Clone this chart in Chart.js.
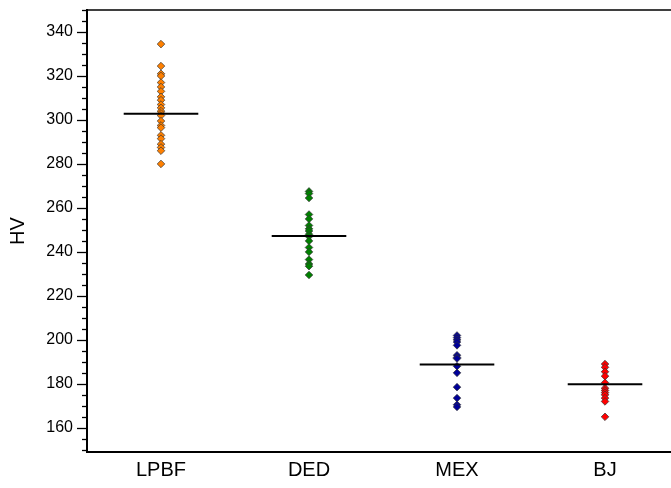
<!DOCTYPE html>
<html><head><meta charset="utf-8">
<script src="https://cdn.jsdelivr.net/npm/chart.js@4"></script>
<style>
html,body{margin:0;padding:0;overflow:hidden;background:#fff;width:671px;height:488px}
#wrap{position:absolute;left:0;top:0;width:700px;height:488px}
</style>
</head><body><div id="wrap"><canvas id="c" width="700" height="488"></canvas></div>
<script>
const categories = ['LPBF', 'DED', 'MEX', 'BJ'];
const lpbf = [334.5, 324.5, 321, 320, 317, 315, 313, 310.5, 309, 307, 305.5, 304, 303, 302, 299.5, 297.5, 296.5, 293, 291.5, 289, 287.5, 286, 280];
const ded = [267.5, 266.5, 264.5, 257, 255, 252, 250.5, 249.5, 248, 247, 245, 242, 240, 236.5, 234.5, 233.5, 229.5];
const mex = [202, 201, 200, 199, 197.5, 193, 192, 191.5, 188, 185, 178.5, 173.5, 170.5, 169.5];
const bj = [189, 187.5, 185.5, 183.5, 180.5, 178, 177, 176, 175, 173.5, 172, 165];
const means = [302.8, 247.2, 188.8, 179.8];
const yTickLabels = [160, 180, 200, 220, 240, 260, 280, 300, 320, 340];
const yMin = 149, yMax = 350, yMinorStep = 5;
const colors = ['#FF8000', '#008000', '#000099', '#FF0000'];
const groups = [lpbf, ded, mex, bj];
const halfWidth = 0.252;

const datasets = [];
means.forEach((m, i) => {
  datasets.push({
    type: 'line', order: -1,
    data: [{x: i + 1 - halfWidth, y: m}, {x: i + 1 + halfWidth, y: m}],
    borderColor: '#000', borderWidth: 2, pointRadius: 0, fill: false
  });
});
groups.forEach((g, i) => {
  datasets.push({
    type: 'scatter',
    data: g.map(v => ({x: i + 1, y: v})),
    pointStyle: 'rectRot', pointRadius: 3.8,
    backgroundColor: colors[i], borderColor: '#333', borderWidth: 0.7
  });
});

const frameTicks = {
  id: 'frameTicks',
  afterDraw(chart) {
    const ctx = chart.ctx, a = chart.chartArea, ys = chart.scales.y;
    ctx.save();
    ctx.strokeStyle = '#000';
    ctx.lineWidth = 1.5;
    ctx.beginPath();
    ctx.moveTo(a.left, a.top); ctx.lineTo(a.right, a.top); ctx.lineTo(a.right, a.bottom);
    ctx.stroke();
    ctx.lineWidth = 1.3;
    for (let v = Math.ceil(yMin / yMinorStep) * yMinorStep; v <= yMax; v += yMinorStep) {
      const p = Math.round(ys.getPixelForValue(v)) + 0.5;
      const len = (v % 20 === 0) ? 10 : 5;
      ctx.beginPath();
      ctx.moveTo(a.left - len, p); ctx.lineTo(a.left, p);
      ctx.stroke();
    }
    ctx.restore();
  }
};

new Chart(document.getElementById('c'), {
  type: 'scatter',
  data: { datasets },
  plugins: [frameTicks],
  options: {
    responsive: false, animation: false, devicePixelRatio: 1,
    layout: { padding: { top: 10, right: 0, bottom: 0, left: 0 } },
    plugins: { legend: { display: false }, tooltip: { enabled: false } },
    scales: {
      x: {
        type: 'linear', position: 'bottom', min: 0.5, max: 4.61,
        grid: { display: false, drawTicks: false },
        border: { display: true, color: '#000', width: 2 },
        afterBuildTicks: s => { s.ticks = categories.map((_, i) => ({ value: i + 1 })); },
        afterFit: s => { s.height = 36; },
        ticks: {
          autoSkip: false, maxRotation: 0, padding: 6, color: '#000',
          font: { family: 'Liberation Sans, Arial, sans-serif', size: 20 },
          callback: v => categories[v - 1] ?? ''
        }
      },
      y: {
        type: 'linear', position: 'left', min: yMin, max: yMax,
        grid: { display: false, drawTicks: false },
        border: { display: true, color: '#000', width: 2 },
        afterBuildTicks: s => { s.ticks = yTickLabels.map(v => ({ value: v })); },
        afterFit: s => { s.width = 87; s.paddingTop = 0; s.paddingBottom = 0; },
        ticks: {
          autoSkip: false, padding: 14, color: '#000',
          font: { family: 'Liberation Sans, Arial, sans-serif', size: 16 },
          callback: v => String(v)
        },
        title: {
          display: true, text: 'HV', color: '#000',
          font: { family: 'Liberation Sans, Arial, sans-serif', size: 20 },
          padding: { top: 6, bottom: 0 }
        }
      }
    }
  }
});
</script>
</body></html>
